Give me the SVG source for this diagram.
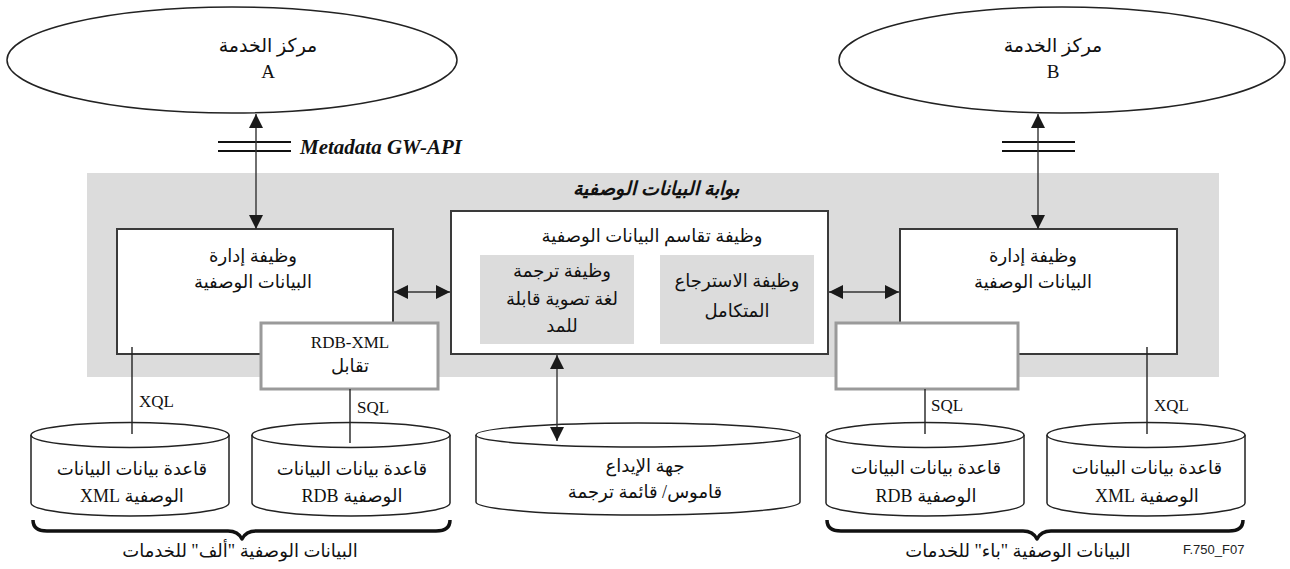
<svg xmlns="http://www.w3.org/2000/svg" width="1290" height="569" viewBox="0 0 1290 569">
<style>
.ar{font-family:"Liberation Serif","DejaVu Sans",serif;font-size:18px;fill:#111;direction:rtl;text-anchor:middle}
.lat{font-family:"Liberation Serif",serif;font-size:17px;fill:#111}
.box{fill:#fff;stroke:#3a3a3a;stroke-width:2}
.inner{fill:#dcdcdc}
.map{fill:#fff;stroke:#9a9a9a;stroke-width:3}
.ell{fill:#fff;stroke:#222;stroke-width:1.5}
.cyl{fill:#fff;stroke:#222;stroke-width:1.5}
.ln{stroke:#222;stroke-width:1.4;fill:none}
.api{stroke:#111;stroke-width:2;fill:none}
.ar2{stroke:#333;stroke-width:1.4;fill:none;marker-start:url(#ah);marker-end:url(#ah)}
.brace{fill:none;stroke:#111;stroke-width:3.5;stroke-linejoin:round}
</style>
<defs>
<marker id="ah" markerUnits="userSpaceOnUse" markerWidth="15" markerHeight="15" refX="14" refY="7" orient="auto-start-reverse" viewBox="0 0 15 14">
<path d="M0,0 L14,7 L0,14 z" fill="#1a1a1a"/>
</marker>
</defs>

<rect x="87" y="173" width="1132" height="204" fill="#dcdcdc"/>
<text x="656" y="195" class="ar" style="font-weight:bold;font-style:italic;font-size:19px">بوابة البيانات الوصفية</text>

<g id="serviceA">
<ellipse cx="232" cy="60" rx="225" ry="53" class="ell"/>
<text x="268" y="52" class="ar" style="font-size:19px">مركز الخدمة</text>
<text x="268" y="78" class="lat" text-anchor="middle" style="font-size:19px">A</text>
</g>
<g id="serviceB">
<ellipse cx="1062" cy="60" rx="223" ry="53" class="ell"/>
<text x="1053" y="52" class="ar" style="font-size:19px">مركز الخدمة</text>
<text x="1053" y="78" class="lat" text-anchor="middle" style="font-size:19px">B</text>
</g>

<g id="api">
<line x1="218" y1="142" x2="291" y2="142" class="api"/>
<line x1="218" y1="151" x2="291" y2="151" class="api"/>
<text x="300" y="154" style="font-family:'Liberation Serif',serif;font-size:21px;font-weight:bold;font-style:italic;fill:#111">Metadata GW-API</text>
<line x1="1002" y1="142" x2="1075" y2="142" class="api"/>
<line x1="1002" y1="151" x2="1075" y2="151" class="api"/>
</g>

<g id="mgmtA">
<rect x="117" y="229" width="276" height="125" class="box"/>
<text x="253" y="262" class="ar">وظيفة إدارة</text>
<text x="253" y="288" class="ar">البيانات الوصفية</text>
</g>
<g id="mgmtB">
<rect x="900" y="229" width="277" height="125" class="box"/>
<text x="1033" y="262" class="ar">وظيفة إدارة</text>
<text x="1033" y="288" class="ar">البيانات الوصفية</text>
</g>
<g id="sharing">
<rect x="451" y="211" width="377" height="143" class="box"/>
<text x="652" y="242" class="ar">وظيفة تقاسم البيانات الوصفية</text>
<rect x="480" y="255" width="154" height="89" class="inner"/>
<text x="562" y="277" class="ar">وظيفة ترجمة</text>
<text x="562" y="305" class="ar">لغة تصوية قابلة</text>
<text x="562" y="332" class="ar">للمد</text>
<rect x="660" y="255" width="154" height="89" class="inner"/>
<text x="737" y="287" class="ar">وظيفة الاسترجاع</text>
<text x="737" y="317" class="ar">المتكامل</text>
</g>
<g id="mapA">
<rect x="261" y="323" width="177" height="66" class="map"/>
<text x="350" y="348" class="lat" text-anchor="middle">RDB-XML</text>
<text x="350" y="372" class="ar">تقابل</text>
</g>
<g id="mapB">
<rect x="836" y="323" width="182" height="66" class="map"/>
</g>

<g id="dbXmlA">
<path d="M31,435 L31,503 A99,13 0 0 0 229,503 L229,435" class="cyl"/>
<ellipse cx="130" cy="435" rx="99" ry="12.5" class="cyl"/>
<text x="132" y="475" class="ar">قاعدة بيانات البيانات</text>
<text x="132" y="502" class="ar">الوصفية XML</text>
</g>
<g id="dbRdbA">
<path d="M252,435 L252,503 A99,13 0 0 0 450,503 L450,435" class="cyl"/>
<ellipse cx="351" cy="435" rx="99" ry="12.5" class="cyl"/>
<text x="352" y="475" class="ar">قاعدة بيانات البيانات</text>
<text x="352" y="502" class="ar">الوصفية RDB</text>
</g>
<g id="repository">
<path d="M476,435 L476,502 A162,13 0 0 0 800,502 L800,435" class="cyl"/>
<ellipse cx="638" cy="435" rx="162" ry="12" class="cyl"/>
<text x="645" y="472" class="ar">جهة الإيداع</text>
<text x="645" y="498" class="ar">قاموس/ قائمة ترجمة</text>
</g>
<g id="dbRdbB">
<path d="M826,435 L826,503 A99,13 0 0 0 1024,503 L1024,435" class="cyl"/>
<ellipse cx="925" cy="435" rx="99" ry="12.5" class="cyl"/>
<text x="926" y="474" class="ar">قاعدة بيانات البيانات</text>
<text x="926" y="502" class="ar">الوصفية RDB</text>
</g>
<g id="dbXmlB">
<path d="M1047,435 L1047,503 A99,13 0 0 0 1245,503 L1245,435" class="cyl"/>
<ellipse cx="1146" cy="435" rx="99" ry="12.5" class="cyl"/>
<text x="1147" y="474" class="ar">قاعدة بيانات البيانات</text>
<text x="1147" y="502" class="ar">الوصفية XML</text>
</g>

<g id="groupA">
<path d="M33,520 Q33,531 47,531 L228,531 Q238,531 242,539 Q246,531 256,531 L436,531 Q450,531 450,520" class="brace"/>
<text x="240" y="557" class="ar">البيانات الوصفية "ألف" للخدمات</text>
</g>
<g id="groupB">
<path d="M827,520 Q827,531 841,531 L1023,531 Q1033,531 1037,539 Q1041,531 1051,531 L1229,531 Q1243,531 1243,520" class="brace"/>
<text x="1018" y="557" class="ar">البيانات الوصفية "باء" للخدمات</text>
</g>
<text x="1183" y="554" style="font-family:'Liberation Sans',sans-serif;font-size:13px;fill:#222">F.750_F07</text>

<g id="connectors">
<line x1="256" y1="114" x2="256" y2="229" class="ar2"/>
<line x1="1038" y1="114" x2="1038" y2="229" class="ar2"/>
<line x1="394" y1="292" x2="450" y2="292" class="ar2"/>
<line x1="829" y1="292" x2="899" y2="292" class="ar2"/>
<line x1="557" y1="355" x2="557" y2="441" class="ar2"/>
<line x1="132" y1="347" x2="132" y2="434" class="ln"/>
<text x="139" y="407" class="lat">XQL</text>
<line x1="350" y1="389" x2="350" y2="443" class="ln"/>
<text x="357" y="413" class="lat">SQL</text>
<line x1="925" y1="389" x2="925" y2="434" class="ln"/>
<text x="931" y="411" class="lat">SQL</text>
<line x1="1147" y1="347" x2="1147" y2="434" class="ln"/>
<text x="1154" y="411" class="lat">XQL</text>
</g>
</svg>
